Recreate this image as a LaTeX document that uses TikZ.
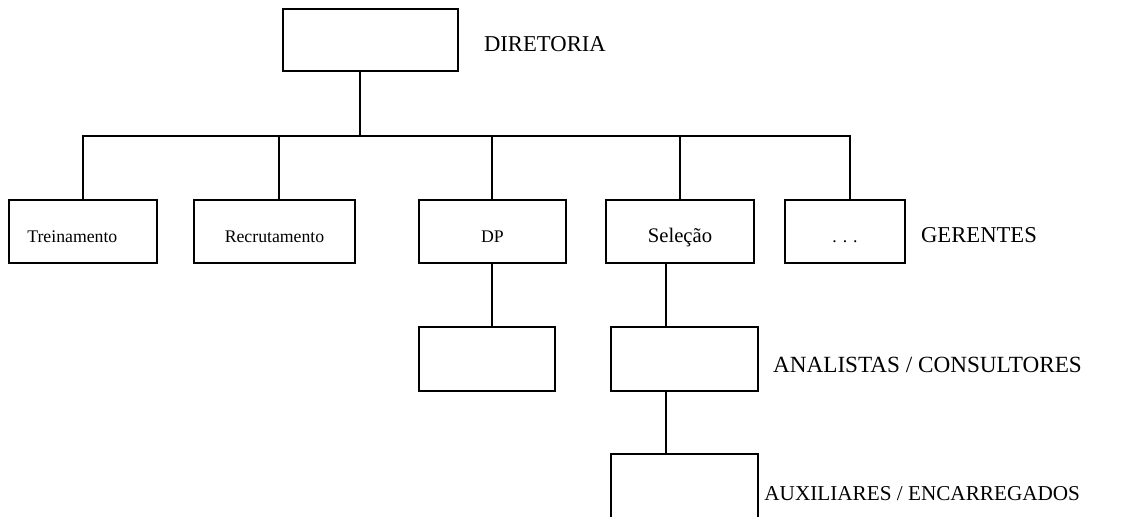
\documentclass[tikz,border=0pt]{standalone}
\usepackage{fontspec}
\setmainfont{Liberation Serif}
\usetikzlibrary{positioning}
\tikzset{
  unit/.style={rectangle,draw,line width=1.2pt,minimum height=47.25pt,inner sep=0pt,text height=15.8pt,text depth=0pt,font=\fontsize{13.3}{16}\selectfont},
  level/.style={inner sep=0pt,font=\fontsize{17}{20}\selectfont},
  link/.style={line width=1.2pt}
}

\begin{document}
\begin{tikzpicture}[x=0.75pt,y=-0.75pt]
  \clip (0,0) rectangle (1128,517);
  % Diretoria
  \node[unit,minimum width=131.25pt,minimum height=46.5pt] (dir) at (370.5,40) {};
  \node[level,right=18.75pt of dir,yshift=-3pt] (ldir) {DIRETORIA};

  % Gerentes
  \node[unit,minimum width=111pt] (trein) at (83,231.5) {Treinamento\hspace*{16pt}};
  \node[unit,minimum width=120.75pt] (recrut) at (274.5,231.5) {Recrutamento};
  \node[unit,minimum width=110.25pt] (dp) at (492.5,231.5) {DP};
  \node[unit,minimum width=111pt,font=\fontsize{15.5}{18}\selectfont] (selecao) at (680,231.5) {Seleção};
  \node[unit,minimum width=90pt] (etc) at (845,231.5) {. . .};
  \node[level,right=11.25pt of etc,yshift=-3pt] (lger) {GERENTES};

  % Analistas e auxiliares
  \node[unit,minimum width=102pt,minimum height=48pt] (dpsub) at (487,359) {};
  \node[unit,minimum width=110.25pt,minimum height=48pt] (anal) at (684.5,359) {};
  \node[level,right=10.5pt of anal,yshift=-4.5pt,font=\fontsize{17.4}{20}\selectfont] (lanal) {ANALISTAS / CONSULTORES};
  \node[unit,minimum width=110.25pt,minimum height=51pt] (aux) at (684.5,488) {};
  \node[level,right=4pt of aux,yshift=-4pt,font=\fontsize{15.9}{19}\selectfont] (laux) {AUXILIARES / ENCARREGADOS};

  % Ligacoes
  \coordinate (bar) at (360,136);
  \draw[link] (dir.south -| bar) -- (bar);
  \draw[link] (trein.north) |- (bar) -| (etc.north -| 850,0);
  \foreach \n/\x in {recrut/279,dp/492,selecao/680}
    \draw[link] (\x,136) -- (\n.north -| \x,0);
  \draw[link] (dp.south -| 492,0) -- (dpsub.north -| 492,0);
  \draw[link] (selecao.south -| 666,0) -- (anal.north -| 666,0);
  \draw[link] (anal.south -| 666,0) -- (aux.north -| 666,0);
\end{tikzpicture}
\end{document}
